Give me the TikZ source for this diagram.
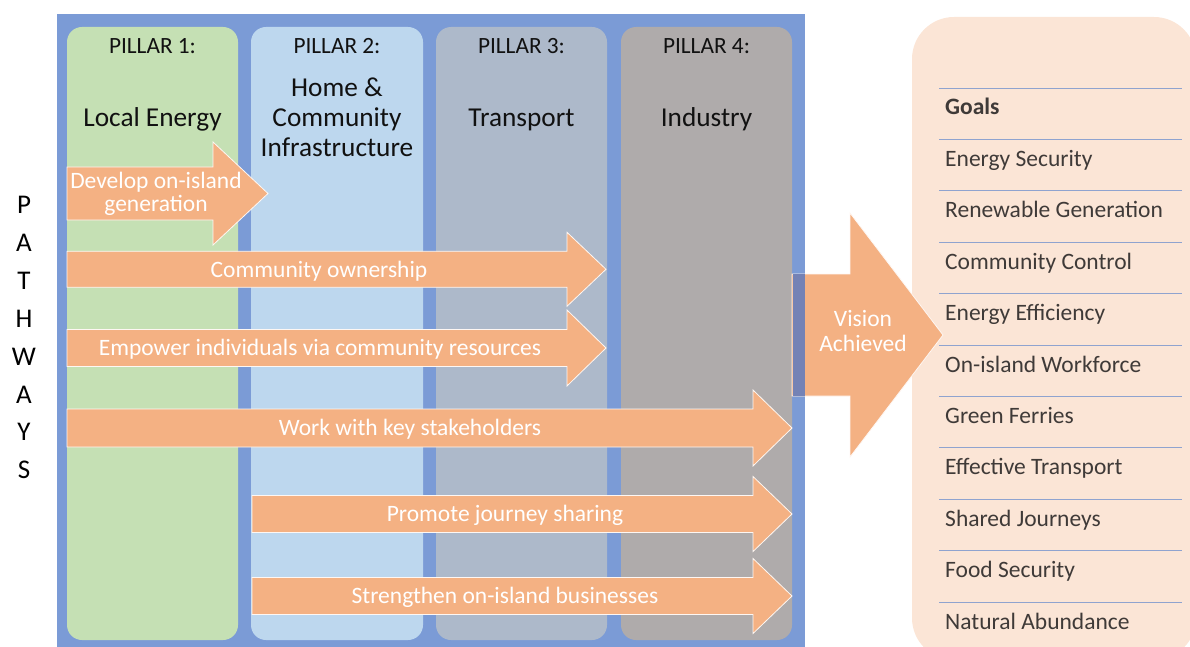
\documentclass[tikz,border=0pt]{standalone}
\usepackage{fontspec}
\setmainfont{Carlito}
\definecolor{frameblue}{HTML}{7B9BD6}
\definecolor{pgreen}{HTML}{C5E0B4}
\definecolor{pblue}{HTML}{BDD7EE}
\definecolor{pslate}{HTML}{ADB9CA}
\definecolor{pgrey}{HTML}{AFABAB}
\definecolor{flowfill}{HTML}{F4B183}
\definecolor{goalfill}{HTML}{FBE5D6}
\definecolor{goalrule}{HTML}{8FA3CF}
\definecolor{goaltext}{HTML}{3F3A38}
\definecolor{overlap}{HTML}{7482B5}
\definecolor{inktext}{HTML}{111111}

% arrow outline: tail x, head base x, tip x, centre y, body half height, head half height
\newcommand\flowshape[6]{%
  \draw[flow] (#1,#4-#5) -- (#2,#4-#5) -- (#2,#4-#6) -- (#3,#4)
    -- (#2,#4+#6) -- (#2,#4+#5) -- (#1,#4+#5) -- cycle;}

\begin{document}
\begin{tikzpicture}[x=1pt,y=-1pt,
  pillar/.style={rounded corners=15pt},
  flow/.style={fill=flowfill,draw=white!90!flowfill,line width=0.8pt,line join=miter},
  flowtext/.style={text=white,inner sep=0pt,anchor=base,font=\fontsize{23.5}{26}\selectfont},
  pillarhead/.style={text=inktext,inner sep=0pt,anchor=base,font=\fontsize{23.3}{26}\selectfont},
  pillarname/.style={text=inktext,inner sep=0pt,anchor=base,font=\fontsize{27.3}{30}\selectfont},
  goal/.style={text=goaltext,inner sep=0pt,anchor=base west,font=\fontsize{23.5}{26}\selectfont},
  letter/.style={text=black,inner sep=0pt,anchor=base,font=\fontsize{27}{30}\selectfont}]
\useasboundingbox (0,0) rectangle (1190,647);
\clip (0,0) rectangle (1190,647);

% frame and the four pillars
\fill[frameblue] (57,14) rectangle (805,650);
\fill[pillar,pgreen] (67,27) rectangle (238,640);
\fill[pillar,pblue]  (251,27) rectangle (423,640);
\fill[pillar,pslate] (436,27) rectangle (607,640);
\fill[pillar,pgrey]  (621,27) rectangle (792,640);

\node[pillarhead] (h1) at (152.5,53.3) {PILLAR 1:};
\node[pillarhead] (h2) at (337,53.3) {PILLAR 2:};
\node[pillarhead] (h3) at (521.5,53.3) {PILLAR 3:};
\node[pillarhead] (h4) at (706.5,53.3) {PILLAR 4:};

\node[pillarname] (n1) at (152.5,127) {Local Energy};
\node[pillarname] (n2a) at (337,97) {Home \&};
\node[pillarname] (n2b) at (337,127) {Community};
\node[pillarname] (n2c) at (337,157) {Infrastructure};
\node[pillarname] (n3) at (521.5,127) {Transport};
\node[pillarname] (n4) at (706.5,127) {Industry};

% pathway arrows
\flowshape{67}{213}{268}{193.5}{26.5}{51.5}
\node[flowtext] (f1a) at (156,188.3) {Develop on-island};
\node[flowtext] (f1b) at (156,211.7) {generation};

\flowshape{67}{567}{606}{269.3}{18}{37}
\node[flowtext] (f2) at (319,277.5) {Community ownership};

\flowshape{67}{567}{606}{348}{18.5}{38}
\node[flowtext] (f3) at (320,355.5) {Empower individuals via community resources};

\flowshape{67}{753}{792}{428}{19}{38}
\node[flowtext] (f4) at (410,435.5) {Work with key stakeholders};

\flowshape{252}{753}{792}{514}{18.5}{37.5}
\node[flowtext] (f5) at (505,521.5) {Promote journey sharing};

\flowshape{252}{753}{792}{596}{18.5}{37.5}
\node[flowtext] (f6) at (505,603.5) {Strengthen on-island businesses};

% PATHWAYS, one letter per line
\foreach \ch [count=\k from 0] in {P,A,T,H,W,A,Y,S}
  \node[letter] (pw\k) at (24,213.5+37.9*\k) {\ch};

% goals panel
\fill[goalfill,rounded corners=42pt] (912,17) rectangle (1196,660);
\foreach \k in {0,...,10}
  \draw[goalrule,line width=0.9pt] (939,88+51.4*\k) -- (1182,88+51.4*\k);
\node[goal,font=\fontsize{23.5}{26}\selectfont\bfseries] (g0) at (945,115) {Goals};
\foreach \t [count=\k] in {Energy Security,Renewable Generation,Community Control,
    Energy Efficiency,On-island Workforce,Green Ferries,Effective Transport,
    Shared Journeys,Food Security,Natural Abundance}
  \node[goal] (g\k) at (945,115+51.4*\k) {\t};

% vision arrow crossing the frame edge
\flowshape{792}{850}{943}{335}{61}{122}
\fill[overlap] (792.5,274.4) rectangle (805,395.6);
\node[flowtext] (v1) at (863,326.7) {Vision};
\node[flowtext] (v2) at (863,351.7) {Achieved};
\end{tikzpicture}
\end{document}
